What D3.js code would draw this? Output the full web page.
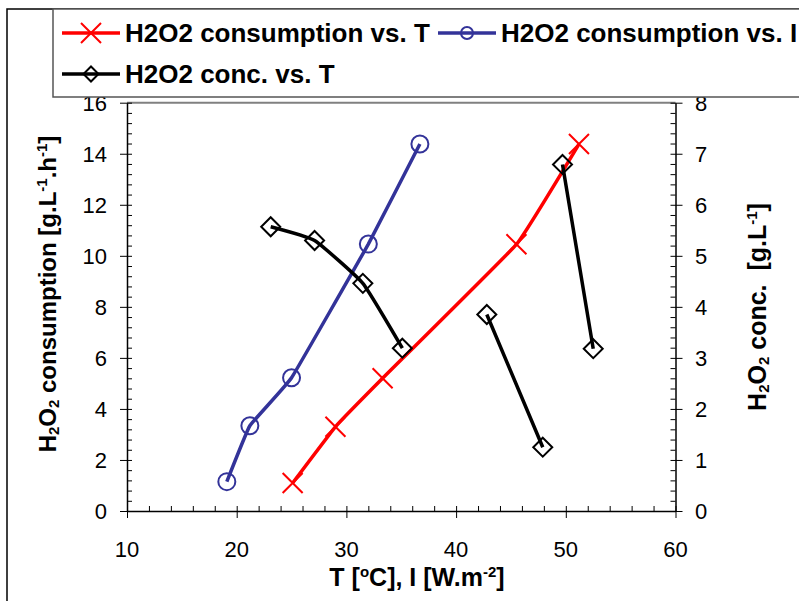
<!DOCTYPE html>
<html>
<head>
<meta charset="utf-8">
<script src="https://cdn.jsdelivr.net/npm/d3@7"></script>
<style>
  body { margin: 0; background: #fff; }
  svg { display: block; font-family: "Liberation Sans", Arial, sans-serif; }
</style>
</head>
<body>
<svg width="799" height="601"></svg>
<script>
// consumption vs T (red), left axis
var consT = [25.1, 29.0, 33.3, 45.5, 51.2];
var consTVal = [1.1, 3.3, 5.2, 10.45, 14.38];
// consumption vs I (blue), left axis
var consI = [19.1, 21.2, 25.0, 32.0, 36.7];
var consIVal = [1.15, 3.34, 5.22, 10.46, 14.38];
// conc vs T (black), right axis, null = gap between runs
var concT = [23.1, 27.1, 31.5, 35.1, null, 42.8, 47.9, null, 49.7, 52.5];
var concVal = [5.57, 5.3, 4.46, 3.19, null, 3.85, 1.25, null, 6.79, 3.18];

var xTicks = [10, 20, 30, 40, 50, 60];
var yLeftTicks = [0, 2, 4, 6, 8, 10, 12, 14, 16];
var yRightTicks = [0, 1, 2, 3, 4, 5, 6, 7, 8];
var legendLabels = ["H2O2 consumption vs. T", "H2O2 consumption vs. I", "H2O2 conc. vs. T"];

var svg = d3.select("svg");
var pL = 127, pR = 675.5, pT = 102.7, pB = 511;

var x = d3.scaleLinear().domain([10, 60]).range([pL, pR]);
var yL = d3.scaleLinear().domain([0, 16]).range([pB, pT]);
var yR = d3.scaleLinear().domain([0, 8]).range([pB, pT]);

// outer frame
svg.append("path").attr("d", "M7,601 L7,9 L799,9")
  .attr("fill", "none").attr("stroke", "#000").attr("stroke-width", 1.5);

// plot top border
svg.append("line").attr("x1", pL).attr("x2", pR).attr("y1", pT).attr("y2", pT)
  .attr("stroke", "#808080").attr("stroke-width", 2);

function toPts(xs, ys) {
  return xs.map(function(d, i) { return {x: d, y: ys[i]}; });
}

// axes
var fontTick = "22px";
var gx = svg.append("g").attr("transform", "translate(0," + pB + ")")
  .call(d3.axisBottom(x).tickValues(d3.range(10, 60.1, 2)).tickSize(0).tickFormat(""));
gx.select(".domain").attr("stroke", "#000").attr("stroke-width", 1.5);
gx.selectAll(".tick line").attr("y1", -5).attr("y2", function(d) { return d % 10 === 0 ? 7 : 0; })
  .attr("stroke", "#000");
svg.append("g").selectAll("text").data(xTicks).enter().append("text")
  .attr("x", function(d) { return x(d); }).attr("y", 557)
  .attr("text-anchor", "middle").style("font-size", fontTick).text(function(d) { return d; });

var gyl = svg.append("g").attr("transform", "translate(" + pL + ",0)")
  .call(d3.axisLeft(yL).tickValues(d3.range(0, 16.01, 0.4)).tickSize(0).tickFormat(""));
gyl.select(".domain").attr("stroke", "#000").attr("stroke-width", 1.5);
gyl.selectAll(".tick line").attr("x1", function(d) { return Math.abs(d / 2 - Math.round(d / 2)) < 1e-6 ? -7 : 0; }).attr("x2", 5)
  .attr("stroke", "#000");
svg.append("g").selectAll("text").data(yLeftTicks).enter().append("text")
  .attr("x", 107).attr("y", function(d) { return yL(d); }).attr("dy", "0.36em")
  .attr("text-anchor", "end").style("font-size", fontTick).text(function(d) { return d; });

var gyr = svg.append("g").attr("transform", "translate(" + pR + ",0)")
  .call(d3.axisRight(yR).tickValues(d3.range(0, 8.01, 0.2)).tickSize(0).tickFormat(""));
gyr.select(".domain").attr("stroke", "#000").attr("stroke-width", 1.5);
gyr.selectAll(".tick line").attr("x1", -5).attr("x2", function(d) { return Math.abs(d - Math.round(d)) < 1e-6 ? 7 : 0; })
  .attr("stroke", "#000");
svg.append("g").selectAll("text").data(yRightTicks).enter().append("text")
  .attr("x", 695).attr("y", function(d) { return yR(d); }).attr("dy", "0.36em")
  .attr("text-anchor", "start").style("font-size", fontTick).text(function(d) { return d; });

// axis titles
var xt = svg.append("text").attr("x", 417).attr("y", 586).attr("text-anchor", "middle")
  .style("font-size", "25px").style("font-weight", "bold");
xt.append("tspan").text("T [");
xt.append("tspan").attr("dy", -9).style("font-size", "15px").text("o");
xt.append("tspan").attr("dy", 9).text("C], I [W.m");
xt.append("tspan").attr("dy", -9).style("font-size", "15px").text("-2");
xt.append("tspan").attr("dy", 9).text("]");

var ylt = svg.append("text").attr("transform", "translate(56,294) rotate(-90)").attr("text-anchor", "middle")
  .style("font-size", "24px").style("font-weight", "bold");
ylt.append("tspan").text("H");
ylt.append("tspan").attr("dy", 3).style("font-size", "15px").text("2");
ylt.append("tspan").attr("dy", -3).text("O");
ylt.append("tspan").attr("dy", 3).style("font-size", "15px").text("2");
ylt.append("tspan").attr("dy", -3).text(" consumption [g.L");
ylt.append("tspan").attr("dy", -9).style("font-size", "15px").text("-1");
ylt.append("tspan").attr("dy", 9).text(".h");
ylt.append("tspan").attr("dy", -9).style("font-size", "15px").text("-1");
ylt.append("tspan").attr("dy", 9).text("]");

var yrt = svg.append("text").attr("transform", "translate(766,307) rotate(-90)").attr("text-anchor", "middle")
  .style("font-size", "25px").style("font-weight", "bold").style("white-space", "pre");
yrt.append("tspan").text("H");
yrt.append("tspan").attr("dy", 3).style("font-size", "15px").text("2");
yrt.append("tspan").attr("dy", -3).text("O");
yrt.append("tspan").attr("dy", 3).style("font-size", "15px").text("2");
yrt.append("tspan").attr("dy", -3).text(" conc.  [g.L");
yrt.append("tspan").attr("dy", -9).style("font-size", "15px").text("-1");
yrt.append("tspan").attr("dy", 9).text("]");

// series (lightly smoothed, like the original)
var lineL = d3.line().curve(d3.curveCardinal.tension(0.75))
  .x(function(d) { return x(d.x); }).y(function(d) { return yL(d.y); });
var lineR = d3.line().curve(d3.curveCardinal.tension(0.6))
  .defined(function(d) { return d.x !== null; })
  .x(function(d) { return x(d.x); }).y(function(d) { return yR(d.y); });

var blue = "#333399", red = "#ff0000";

function cross(g, cx, cy, s, col) {
  g.append("path").attr("d", "M" + (cx - s) + "," + (cy - s) + "L" + (cx + s) + "," + (cy + s) +
    "M" + (cx - s) + "," + (cy + s) + "L" + (cx + s) + "," + (cy - s))
    .attr("stroke", col).attr("stroke-width", 2).attr("fill", "none");
}
function diamond(g, cx, cy, s) {
  g.append("path").attr("d", "M" + cx + "," + (cy - s) + "L" + (cx + s) + "," + cy + "L" + cx + "," + (cy + s) + "L" + (cx - s) + "," + cy + "Z")
    .attr("stroke", "#000").attr("stroke-width", 2).attr("fill", "none");
}

var plot = svg.append("g");

var bluePts = toPts(consI, consIVal);
plot.append("path").attr("d", lineL(bluePts)).attr("fill", "none").attr("stroke", blue).attr("stroke-width", 3.5);
plot.selectAll(".bc").data(bluePts).enter().append("circle")
  .attr("cx", function(d) { return x(d.x); }).attr("cy", function(d) { return yL(d.y); })
  .attr("r", 8.5).attr("fill", "none").attr("stroke", blue).attr("stroke-width", 2);

var redPts = toPts(consT, consTVal);
plot.append("path").attr("d", lineL(redPts)).attr("fill", "none").attr("stroke", red).attr("stroke-width", 3.5);
redPts.forEach(function(d) { cross(plot, x(d.x), yL(d.y), 10, red); });

var blackPts = toPts(concT, concVal);
plot.append("path").attr("d", lineR(blackPts)).attr("fill", "none").attr("stroke", "#000").attr("stroke-width", 3.5);
blackPts.filter(function(d) { return d.x !== null; })
  .forEach(function(d) { diamond(plot, x(d.x), yR(d.y), 9.5); });

// legend
var lg = svg.append("g");
lg.append("rect").attr("x", 53).attr("y", 9).attr("width", 800).attr("height", 88)
  .attr("fill", "#fff").attr("stroke", "#555").attr("stroke-width", 1.5);
var legendPos = [{x: 62, y: 33}, {x: 438, y: 33}, {x: 62, y: 74}];
var legendCol = [red, blue, "#000"];
legendLabels.forEach(function(lab, i) {
  var p = legendPos[i];
  lg.append("line").attr("x1", p.x).attr("x2", p.x + 58).attr("y1", p.y).attr("y2", p.y)
    .attr("stroke", legendCol[i]).attr("stroke-width", 3.5);
  var cx = p.x + 29;
  if (i === 0) cross(lg, cx, p.y, 10, red);
  if (i === 1) lg.append("circle").attr("cx", cx).attr("cy", p.y).attr("r", 6)
    .attr("fill", "none").attr("stroke", blue).attr("stroke-width", 2);
  if (i === 2) diamond(lg, cx, p.y, 7.5);
  lg.append("text").attr("x", p.x + 63).attr("y", p.y).attr("dy", "0.36em")
    .style("font-size", "26px").style("font-weight", "bold").text(lab);
});
</script>
</body>
</html>
